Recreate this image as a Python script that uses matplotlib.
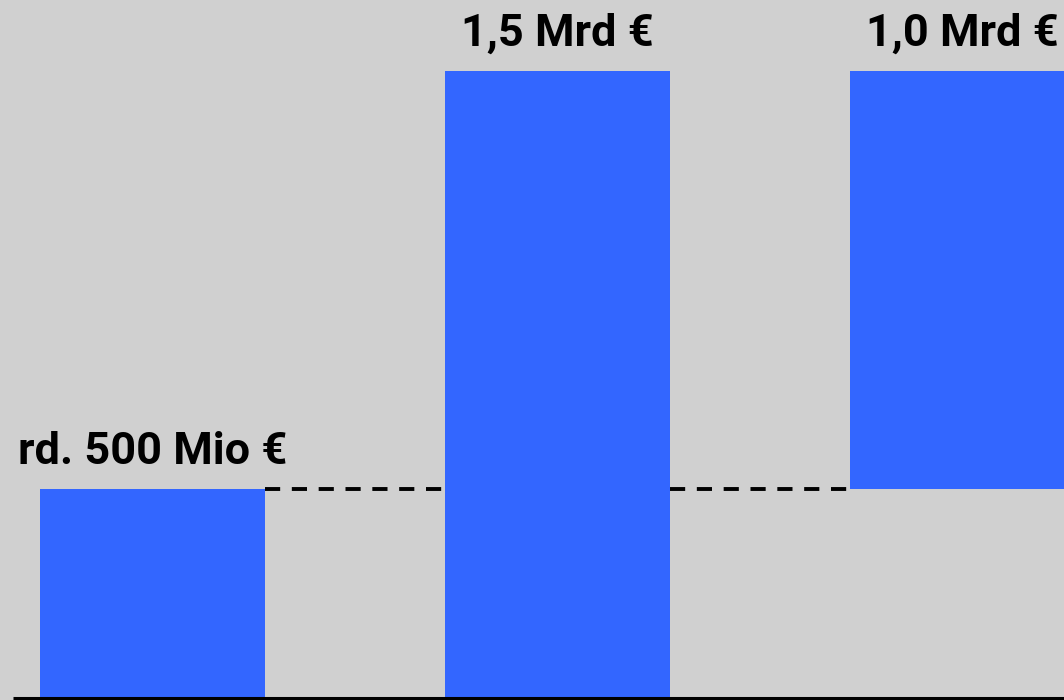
import numpy as np
import matplotlib.pyplot as plt

# Values in billions of euros
labels = ["rd. 500 Mio €", "1,5 Mrd €", "1,0 Mrd €"]
bottoms = [0.0, 0.0, 0.5]
heights = [0.5, 1.5, 1.0]

BLUE = "#3366ff"
BG = "#d0d0d0"

plt.rcParams["font.family"] = ["Roboto", "DejaVu Sans"]

fig = plt.figure(figsize=(10.64, 7.0), dpi=100, facecolor=BG)
ax = fig.add_axes([0, 0, 1, 1])
ax.set_facecolor(BG)

x = np.arange(len(heights))
width = 0.556
ax.bar(x, heights, width=width, bottom=bottoms, color=BLUE, linewidth=0, zorder=2)

# dashed connectors at the level of the first bar
level = bottoms[0] + heights[0]
for i in range(len(x) - 1):
    ax.plot([x[i] + width / 2, x[i + 1] - width / 2], [level, level],
            color="black", linewidth=2.8, linestyle=(0, (3.9, 3.0)), zorder=1)

for xi, b, h, lab in zip(x, bottoms, heights, labels):
    ax.annotate(lab, (xi, b + h), xytext=(0, 18), textcoords="offset points",
                ha="center", va="baseline", fontsize=32.5, fontweight="bold",
                color="black")

ax.set_xlim(-0.3765, 2.2506)
ax.set_ylim(-0.0036, 1.6695)
ax.plot([-0.345, 2.2506], [0, 0], color="black", linewidth=2.2, zorder=3,
        solid_capstyle="butt")
ax.axis("off")

plt.savefig("out.png", dpi=100, facecolor=BG)
plt.close()
